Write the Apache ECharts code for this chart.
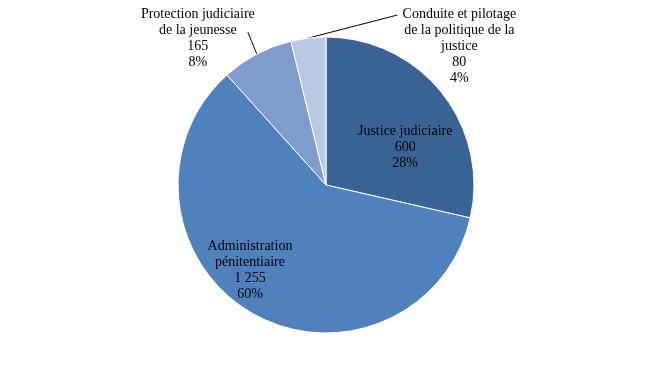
<!DOCTYPE html>
<html><head><meta charset="utf-8">
<script src="https://cdn.jsdelivr.net/npm/echarts@6/dist/echarts.min.js"></script>
<style>html,body{margin:0;padding:0;background:#fff}#c{width:655px;height:373px}</style>
</head><body><div id="c"></div>
<script>
const categories = ["Justice judiciaire", "Administration\npénitentiaire", "Protection judiciaire\nde la jeunesse", "Conduite et pilotage\nde la politique de la\njustice"];
const values = [600, 1255, 165, 80];
const valueLabels = ["600", "1 255", "165", "80"];
const pctLabels = ["28%", "60%", "8%", "4%"];
const colors = ["#3A6395", "#4F81BD", "#7E9DCC", "#B9C9E3"];

const chart = echarts.init(document.getElementById('c'));
const labelFont = {fontFamily: 'Liberation Serif', fontSize: 14, lineHeight: 16, color: '#000'};
const inside = [true, true, false, false];
const insideOffsets = [[19, 10], [-37, 19], [0, 0], [0, 0]];
// label shift and leader-line end, relative to the slice anchor point
const outsideShift = {2: [-59, -16], 3: [151, 8]};
const lineEnd = {2: [-9, -22], 3: [89, -23]};

const data = categories.map((n, i) => ({
  name: n, value: values[i],
  itemStyle: {color: colors[i]},
  label: inside[i] ? {position: 'inside', offset: insideOffsets[i], align: 'center'} : {position: 'outside', align: 'center'},
  labelLine: {show: !inside[i], length: 20, length2: 0, lineStyle: {color: '#000', width: 1}}
}));

chart.setOption({
  animation: false,
  series: [{
    type: 'pie',
    center: [326, 185],
    radius: 148,
    startAngle: 90,
    clockwise: true,
    avoidLabelOverlap: false,
    itemStyle: {borderColor: '#fff', borderWidth: 1},
    label: Object.assign({
      formatter: p => p.name + '\n' + valueLabels[p.dataIndex] + '\n' + pctLabels[p.dataIndex],
      textAlign: 'center'
    }, labelFont),
    labelLayout: function (p) {
      const s = outsideShift[p.dataIndex];
      if (!s || !p.labelLinePoints) return {};
      const a = p.labelLinePoints[0];
      const e = lineEnd[p.dataIndex];
      return {
        x: a[0] + s[0], y: a[1] + s[1], align: 'center', verticalAlign: 'middle',
        labelLinePoints: [[a[0], a[1]], [a[0] + e[0] / 2, a[1] + e[1] / 2], [a[0] + e[0], a[1] + e[1]]]
      };
    },
    emphasis: {disabled: true},
    data: data
  }]
});
</script></body></html>
